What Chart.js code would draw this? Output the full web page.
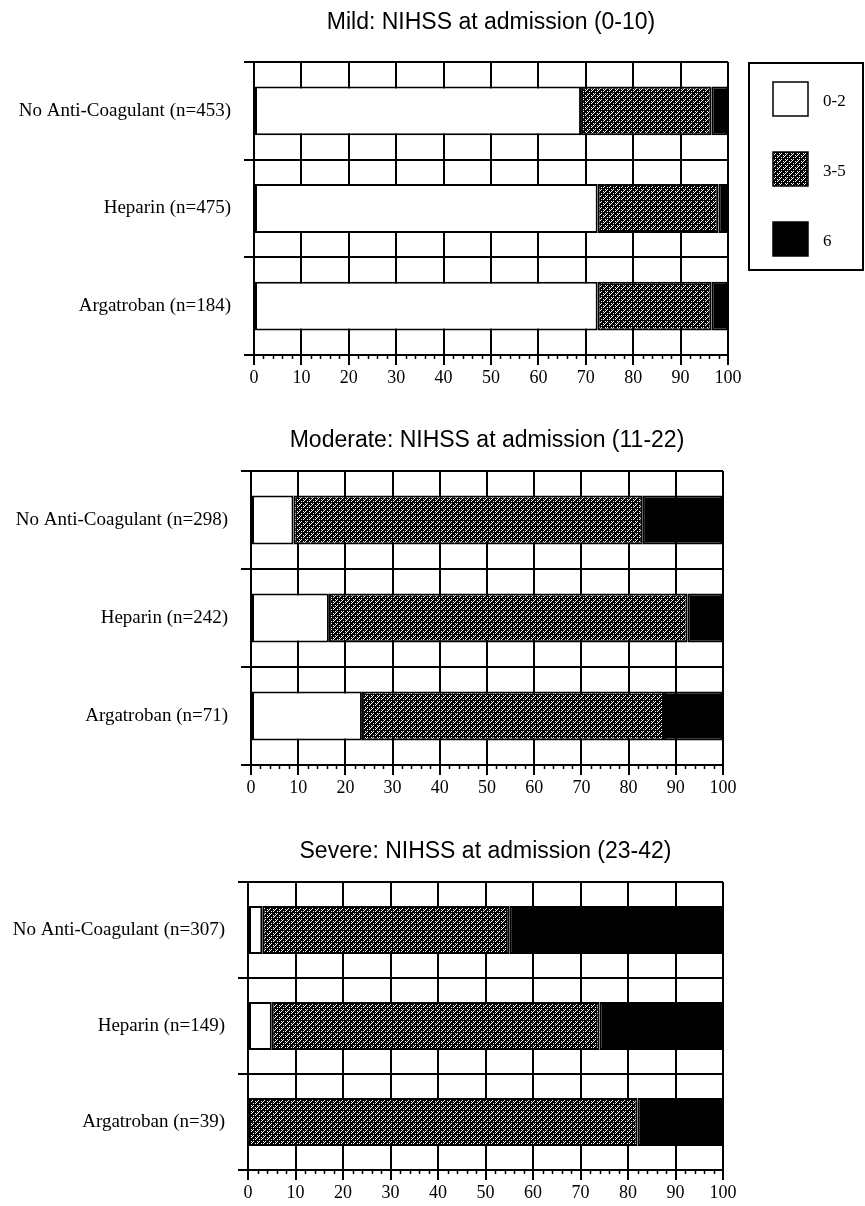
<!DOCTYPE html>
<html>
<head>
<meta charset="utf-8">
<script src="https://cdn.jsdelivr.net/npm/chart.js@4"></script>
<style>
  body { margin: 0; background: #fff; }
  #wrap { position: relative; width: 865px; height: 1206px; overflow: hidden; }
  canvas { position: absolute; left: 0; }
</style>
</head>
<body>
<div id="wrap">
  <canvas id="chart0"></canvas>
  <canvas id="chart1"></canvas>
  <canvas id="chart2"></canvas>
</div>
<script>
// data (percent of patients)
const seriesNames = ["0-2", "3-5", "6"];

const mildTitle = "Mild: NIHSS at admission (0-10)";
const mildGroups = ["No Anti-Coagulant (n=453)", "Heparin (n=475)", "Argatroban (n=184)"];
const mildLow = [69, 72.5, 72.5];
const mildMid = [27.5, 25.5, 24];
const mildHigh = [3.5, 2, 3.5];

const modTitle = "Moderate: NIHSS at admission (11-22)";
const modGroups = ["No Anti-Coagulant (n=298)", "Heparin (n=242)", "Argatroban (n=71)"];
const modLow = [9, 16.5, 23.5];
const modMid = [74, 76, 64];
const modHigh = [17, 7.5, 12.5];

const sevTitle = "Severe: NIHSS at admission (23-42)";
const sevGroups = ["No Anti-Coagulant (n=307)", "Heparin (n=149)", "Argatroban (n=39)"];
const sevLow = [3, 5, 0];
const sevMid = [52, 69, 82];
const sevHigh = [45, 26, 18];

const xTicks = [0, 100, 10]; // min, max, step
const xMinorStep = 2;

Chart.defaults.color = "#000";
Chart.defaults.font.family = "'Liberation Serif', 'Times New Roman', serif";

// dotted grey fill like the scan
function makePattern() {
    const c = document.createElement("canvas");
    c.width = 6; c.height = 6;
    const g = c.getContext("2d");
    g.fillStyle = "#000";
    g.fillRect(0, 0, 6, 6);
    g.fillStyle = "#fff";
    [[1, 1], [3, 1], [5, 3], [1, 3], [3, 5], [5, 5], [4, 0], [0, 4]].forEach(p => g.fillRect(p[0], p[1], 1, 1));
    return g.createPattern(c, "repeat");
}
const greyFill = makePattern();
const fills = ["#ffffff", greyFill, "#000000"];

const minorTicks = {
    id: "minorTicks",
    afterDraw(chart) {
        const sx = chart.scales.x;
        const ctx = chart.ctx;
        ctx.save();
        ctx.strokeStyle = "#000";
        ctx.lineWidth = 1.5;
        for (let v = xTicks[0]; v <= xTicks[1]; v += xMinorStep) {
            if (v % xTicks[2] === 0) continue;
            const px = Math.round(sx.getPixelForValue(v)) + 0.5;
            ctx.beginPath();
            ctx.moveTo(px, sx.top);
            ctx.lineTo(px, sx.top + 4);
            ctx.stroke();
        }
        ctx.restore();
    }
};

const boxLegend = {
    id: "boxLegend",
    afterDraw(chart) {
        const o = chart.options.plugins.boxLegend;
        if (!o || !o.show) return;
        const ctx = chart.ctx;
        ctx.save();
        ctx.strokeStyle = "#000";
        ctx.lineWidth = 2;
        ctx.strokeRect(o.x, o.y, o.w, o.h);
        chart.data.datasets.forEach((ds, i) => {
            const cy = o.y + o.first + i * o.gap;
            ctx.fillStyle = ds.backgroundColor;
            ctx.fillRect(o.x + 24, cy - 17, 35, 34);
            ctx.lineWidth = 1.5;
            ctx.strokeRect(o.x + 24, cy - 17, 35, 34);
            ctx.fillStyle = "#000";
            ctx.font = "17px 'Liberation Serif'";
            ctx.textBaseline = "middle";
            ctx.fillText(ds.label, o.x + 74, cy + 3);
        });
        ctx.restore();
    }
};

window.charts = [];
function createChart(no, title, groups, series, box, legend) {
    const canvas = document.getElementById("chart" + no);
    const xHeight = 36;
    canvas.width = 865;
    canvas.height = box.plotBottom - box.top + xHeight;
    canvas.style.top = box.top + "px";
    const titleLine = 23 * 1.2;
    const chart = new Chart(canvas.getContext("2d"), {
        type: "bar",
        data: {
            labels: groups,
            datasets: series.map((d, i) => ({
                label: seriesNames[i],
                data: d,
                backgroundColor: fills[i],
                borderColor: "#000",
                borderWidth: 2,
                borderSkipped: false,
                categoryPercentage: 1,
                barPercentage: 0.5,
            })),
        },
        options: {
            indexAxis: "y",
            responsive: false,
            animation: false,
            layout: { padding: { left: 0, right: 865 - box.right, top: 0, bottom: 0 } },
            scales: {
                x: {
                    stacked: true,
                    min: xTicks[0],
                    max: xTicks[1],
                    ticks: { stepSize: xTicks[2], padding: 2, font: { size: 18 } },
                    grid: { color: "#000", lineWidth: 2, tickLength: 10 },
                    border: { color: "#000", width: 2 },
                    afterFit: (s) => { s.height = xHeight; },
                },
                y: {
                    stacked: true,
                    ticks: { padding: 13, font: { size: 19 } },
                    grid: { color: "#000", lineWidth: 2, tickLength: 10, offset: true },
                    border: { color: "#000", width: 2 },
                    afterFit: (s) => { s.width = box.left; },
                },
            },
            plugins: {
                legend: { display: false },
                tooltip: { enabled: false },
                title: {
                    display: true,
                    text: title,
                    fullSize: false,
                    font: { family: "'Liberation Sans', Arial, sans-serif", size: 23, weight: "normal", lineHeight: 1.2 },
                    padding: {
                        top: box.titleY - box.top - titleLine / 2,
                        bottom: box.plotTop - box.titleY - titleLine / 2,
                    },
                },
                boxLegend: legend || { show: false },
            },
        },
        plugins: [minorTicks, boxLegend],
    });
    window.charts.push(chart);
}

createChart(0, mildTitle, mildGroups, [mildLow, mildMid, mildHigh],
    { top: 0, titleY: 23, plotTop: 62, plotBottom: 355, left: 254, right: 728 },
    { show: true, x: 749, y: 63, w: 114, h: 207, first: 36, gap: 70 });
createChart(1, modTitle, modGroups, [modLow, modMid, modHigh],
    { top: 410, titleY: 441, plotTop: 471, plotBottom: 765, left: 251, right: 723 });
createChart(2, sevTitle, sevGroups, [sevLow, sevMid, sevHigh],
    { top: 820, titleY: 852, plotTop: 882, plotBottom: 1170, left: 248, right: 723 });
</script>
</body>
</html>
